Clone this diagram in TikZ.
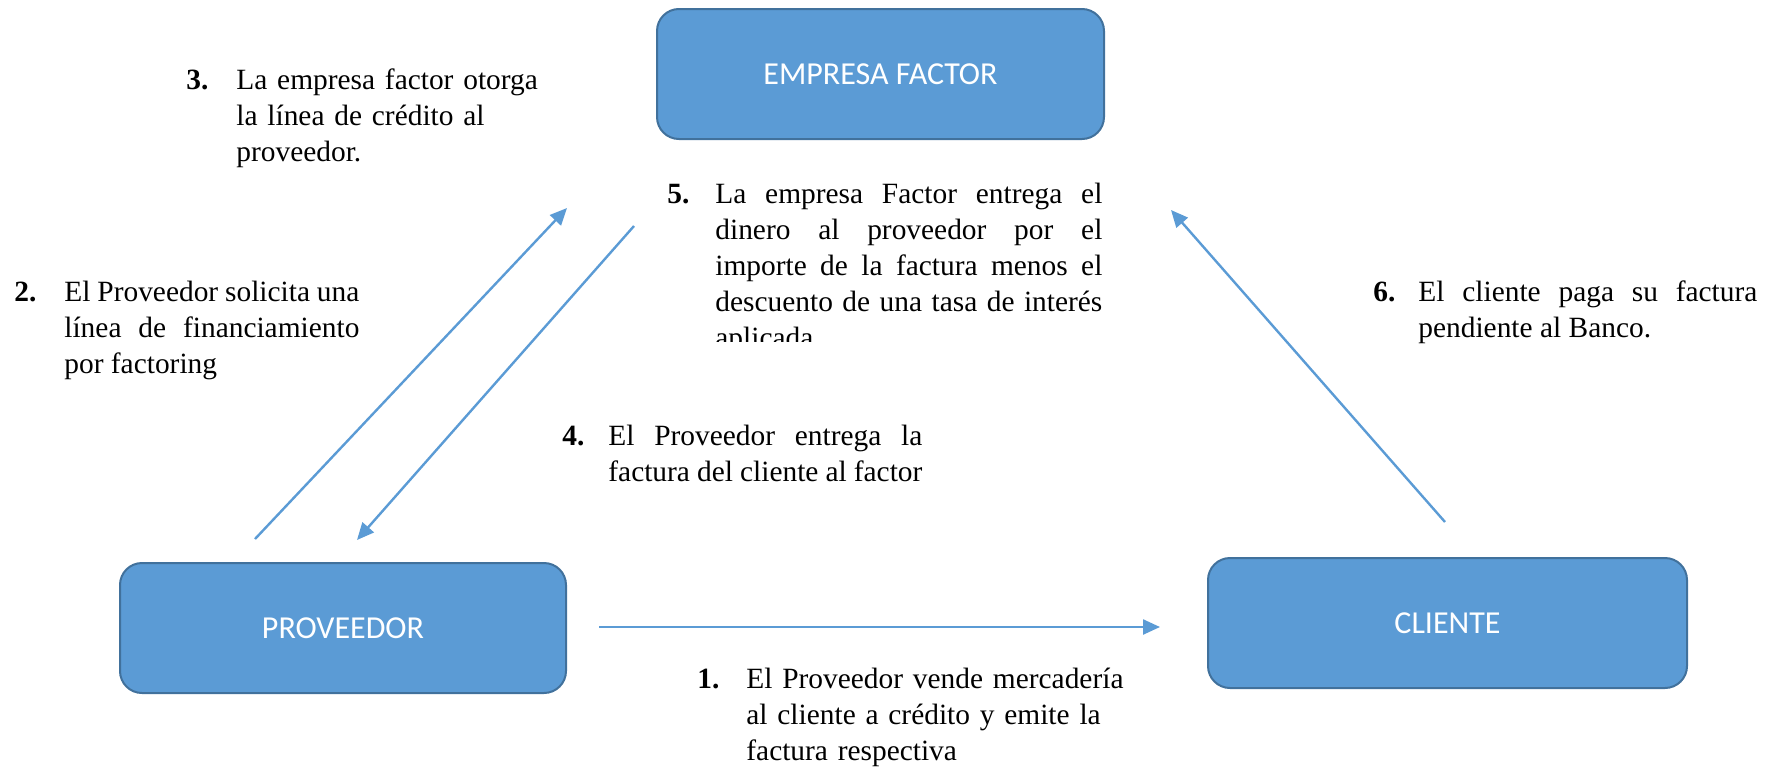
\documentclass[tikz,border=0pt]{standalone}
\usepackage{fontspec}
\setmainfont{Liberation Serif}
\newfontfamily\cajafont{Carlito}
\usetikzlibrary{arrows.meta}
\definecolor{azul}{HTML}{5B9BD5}
\definecolor{azulborde}{HTML}{41719C}
\tolerance=10000
\hyphenpenalty=10000
\begin{document}
\begin{tikzpicture}[x=0.5pt,y=-0.5pt]
\tikzstyle{every node}+=[inner sep=0pt]
\tikzstyle{caja}=[draw=azulborde, line width=1pt, fill=azul, rounded corners=11pt, minimum height=65pt, text=white, font=\cajafont\fontsize{16}{19}\selectfont]
\tikzstyle{flecha}=[draw=azul, line width=1.2pt, -{Triangle[length=8.5pt,width=7.5pt]}]
\tikzstyle{num}=[anchor=base west, font=\fontsize{14.7}{18}\selectfont\bfseries]
\tikzstyle{paso}=[anchor=base west, align=justify, font=\fontsize{14.7}{18}\selectfont]
\tikzstyle{pasoizq}=[anchor=base west, align=left, font=\fontsize{14.7}{18}\selectfont]
\useasboundingbox (0,0) rectangle (1772,766);
\node [caja, minimum width=223.5pt] (factor) at (880.5,74) {EMPRESA FACTOR};
\node [caja, minimum width=223pt] (proveedor) at (343,628) {PROVEEDOR};
\node [caja, minimum width=239.5pt] (cliente) at (1447.5,623) {CLIENTE};
\node [num] (n1) at (697,688) {1.};
\node [pasoizq, text width=200pt] (t1) at (746,688) {El Proveedor vende mercadería\\al cliente a crédito y emite la\\factura respectiva};
\node [num] (n2) at (14,301) {2.};
\node [paso, text width=147.5pt] (t2) at (64,301) {El Proveedor solicita una\linebreak línea de financiamiento\linebreak por factoring};
\node [num] (n3) at (186,89) {3.};
\node [pasoizq, text width=160pt] (t3) at (236,89) {La empresa factor otorga\\la línea de crédito al\\proveedor.};
\node [num] (n4) at (562,445) {4.};
\node [paso, text width=157pt] (t4) at (608,445) {El Proveedor entrega la\linebreak factura del cliente al factor};
\begin{scope}
\clip (600,150) rectangle (1120,341);
\node [num] (n5) at (667,203) {5.};
\node [paso, text width=193.5pt] (t5) at (715,203) {La empresa Factor entrega el\linebreak dinero al proveedor por el\linebreak importe de la factura menos el\linebreak descuento de una tasa de interés\linebreak aplicada};
\end{scope}
\node [num] (n6) at (1373,301) {6.};
\node [paso, text width=169.5pt] (t6) at (1418,301) {El cliente paga su factura\linebreak pendiente al Banco.};
\coordinate (a1i) at (599,627);
\coordinate (a1f) at (1160,627);
\coordinate (a2i) at (255,539);
\coordinate (a2f) at (567,208);
\coordinate (a3i) at (634,226);
\coordinate (a3f) at (357,540);
\coordinate (a6i) at (1445,522);
\coordinate (a6f) at (1171,210);
\draw [flecha] (a1i) -- (a1f);
\draw [flecha] (a2i) -- (a2f);
\draw [flecha] (a3i) -- (a3f);
\draw [flecha] (a6i) -- (a6f);
\end{tikzpicture}
\end{document}
